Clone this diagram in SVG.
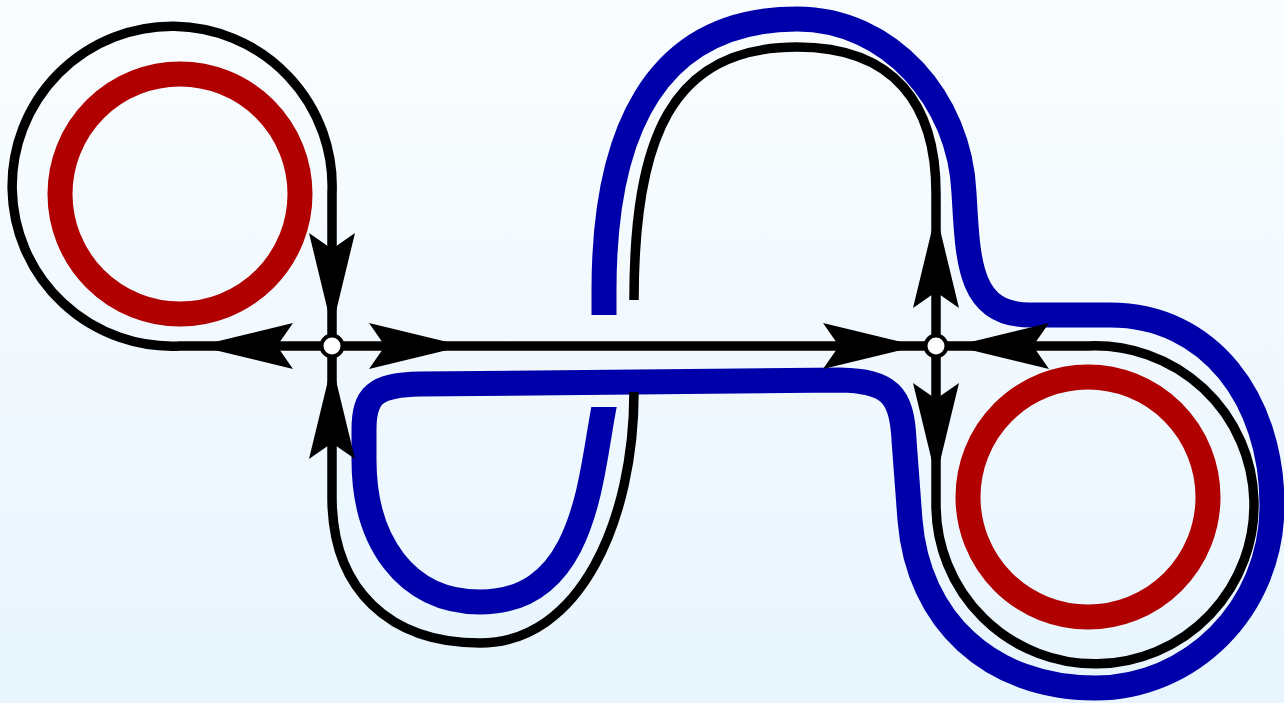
<svg xmlns="http://www.w3.org/2000/svg" width="1284" height="703" viewBox="0 0 1284 703">
<defs>
<linearGradient id="bg" x1="0" y1="0" x2="0" y2="1">
<stop offset="0" stop-color="#fafdff"/>
<stop offset="1" stop-color="#e8f5fe"/>
</linearGradient>
<path id="ah" d="M0 0 L-95 -23 L-79 0 L-95 23 Z"/>
<clipPath id="gap">
<path clip-rule="evenodd" d="M0 0 H1284 V703 H0 Z M570 397 H640 V407 H570 Z"/>
</clipPath>
<style>
.blue{fill:none;stroke:#0000aa;stroke-width:25;stroke-linejoin:round}
.red{fill:none;stroke:#b00000;stroke-width:25}
.blk{fill:none;stroke:#000;stroke-width:9.5;stroke-linejoin:round}
.arr{fill:#000}
.jn{fill:#fff;stroke:#000;stroke-width:4}
</style>
</defs>
<rect x="0" y="0" width="1284" height="703" fill="url(#bg)"/>
<g id="band">
<path class="blue" clip-path="url(#gap)" d="M604 315 L604 290 C604 140 650 19 797 19 C890 19 960 100 964 193 C968 260 968 315 1030 315 L1110 315 C1210 315 1272 400 1272 505 C1272 610 1190 688 1095 688 C990 688 918 620 910 520 L904 440 C902 395 890 381 840 380 L420 384 C375 385 364 395 364 430 L364 460 C364 540 405 602 480 602 C585 602 590 480 604 407 L605.5 399"/>
</g>
<g id="ring-left"><circle class="red" cx="180" cy="194" r="120"/></g>
<g id="ring-right"><circle class="red" cx="1088" cy="497" r="120"/></g>
<g id="connectors">
<path class="blk" d="M332 346 L332 193 A160 160 0 1 0 180 346 L332 346"/>
<path class="blk" d="M332 346 L936 346"/>
<path class="blk" d="M332 346 L332 497 C332 590 390 643 480 643 C580 643 634 520 634 392"/>
<path class="blk" d="M634 300 C634 140 670 47 797 47 C895 47 936 105 936 193 L936 346"/>
<path class="blk" d="M936 346 L1088 346 A159 159 0 1 1 936 505 L936 346"/>
<use href="#ah" class="arr" transform="translate(332 328) rotate(90)"/>
<use href="#ah" class="arr" transform="translate(332 364) rotate(-90)"/>
<use href="#ah" class="arr" transform="translate(464 346)"/>
<use href="#ah" class="arr" transform="translate(198 346) rotate(180)"/>
<use href="#ah" class="arr" transform="translate(936 213) rotate(-90)"/>
<use href="#ah" class="arr" transform="translate(936 478) rotate(90)"/>
<use href="#ah" class="arr" transform="translate(918 346)"/>
<use href="#ah" class="arr" transform="translate(954 346) rotate(180)"/>
</g>
<g id="node-left"><circle class="jn" cx="332" cy="346" r="10.5"/></g>
<g id="node-right"><circle class="jn" cx="936" cy="346" r="10.5"/></g>
</svg>
